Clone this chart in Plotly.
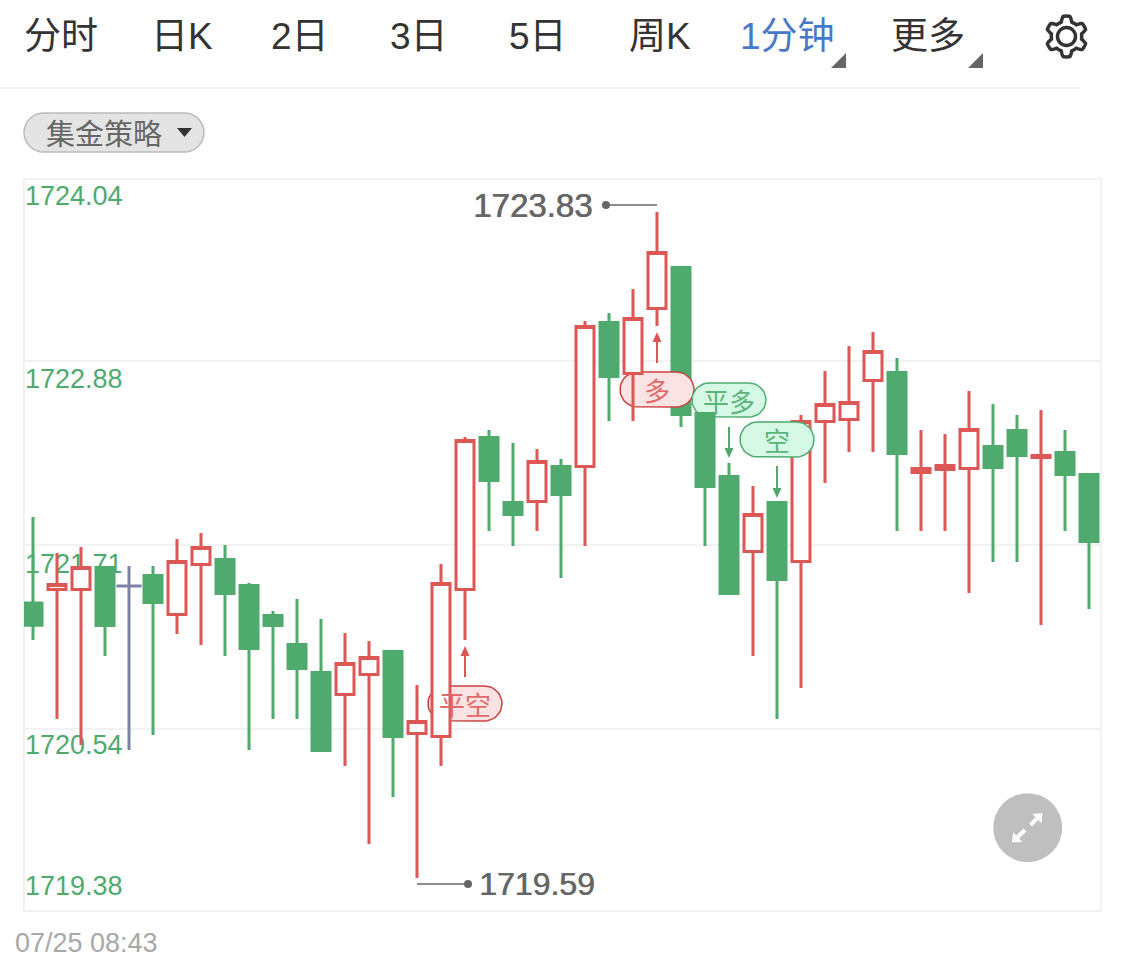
import math
import plotly.graph_objects as go

# ---- data ----------------------------------------------------------------
idx = list(range(45))
highs = [1721.888,1721.659,1721.697,1721.567,1721.576,1721.576,1721.748,1721.786,1721.710,1721.468,
         1721.290,1721.366,1721.239,1721.150,1721.099,1721.032,1720.819,1721.589,1722.398,1722.442,
         1722.359,1722.321,1722.258,1723.136,1723.187,1723.340,1723.830,1723.477,1722.547,1722.232,
         1722.086,1721.981,1722.538,1722.818,1722.977,1723.066,1722.900,1722.442,1722.417,1722.690,
         1722.608,1722.538,1722.569,1722.442,1722.159]
lows = [1721.105,1720.602,1720.437,1721.003,1720.405,1720.500,1721.143,1721.073,1721.003,1720.405,
        1720.602,1720.602,1720.402,1720.303,1719.807,1720.106,1719.590,1720.303,1721.105,1721.799,
        1721.704,1721.799,1721.500,1721.704,1722.499,1722.499,1723.104,1722.461,1721.704,1721.401,
        1721.003,1720.602,1720.800,1722.105,1722.302,1722.302,1721.799,1721.799,1721.799,1721.404,
        1721.602,1721.602,1721.201,1721.799,1721.303]
opens = [1721.340,1721.427,1721.427,1721.567,1721.449,1721.516,1721.268,1721.586,1721.618,1721.452,
         1721.261,1721.077,1720.898,1720.758,1720.886,1721.032,1720.510,1720.491,1721.427,1722.394,
         1721.981,1721.987,1722.210,1722.210,1723.126,1722.802,1723.216,1723.477,1722.547,1722.146,
         1721.669,1721.981,1721.605,1722.496,1722.509,1722.757,1722.808,1722.172,1722.191,1722.197,
         1722.337,1722.439,1722.267,1722.299,1722.159]
closes = [1721.199,1721.459,1721.567,1721.198,1721.449,1721.344,1721.605,1721.694,1721.401,1721.051,
          1721.198,1720.924,1720.402,1720.956,1720.994,1720.491,1720.586,1721.465,1722.375,1722.121,
          1721.904,1722.242,1722.032,1723.101,1722.783,1723.152,1723.572,1722.541,1722.082,1721.401,
          1721.904,1721.490,1722.496,1722.604,1722.617,1722.942,1722.293,1722.197,1722.216,1722.445,
          1722.203,1722.280,1722.280,1722.159,1721.732]
doji_index = 4
above_label = {17, 25, 28}      # candles painted over the signal pills

y_min, y_max = 1719.38, 1724.04
grid_values = [1722.88, 1721.71, 1720.54]
axis_labels = ["1724.04", "1722.88", "1721.71", "1720.54", "1719.38"]
axis_label_pos = [1723.932, 1722.767, 1721.595, 1720.437, 1719.539]
max_label, min_label = "1723.83", "1719.59"
tabs = ["分时", "日K", "2日", "3日", "5日", "周K", "1分钟", "更多"]
tab_centers = [61, 182, 300, 419, 538, 660, 787, 928]

RED, GREEN, BLUEGRAY = "#dd5757", "#4faa6e", "#7d82a8"
GRID = "#f2f2f2"

# ---- pixel helpers for furniture ----------------------------------------
L, R, T, B = 24, 1101, 179, 911
W, H = 1125, 973
px = lambda x: (x - L) / (R - L)
py = lambda y: (B - y) / (B - T)
dx = lambda x: (x - 33) / 24
dy = lambda y: y_max - (y - T) * (y_max - y_min) / (B - T)


def pill_poly(x0, y0, x1, y1):
    r = (y1 - y0) / 2
    pts = []
    for a in range(-90, 91, 10):
        pts.append((x1 - r + r * math.cos(math.radians(a)), y0 + r + r * math.sin(math.radians(a))))
    for a in range(90, 271, 10):
        pts.append((x0 + r + r * math.cos(math.radians(a)), y0 + r + r * math.sin(math.radians(a))))
    pts.append(pts[0])
    return pts


def path_of(pts, close=True):
    return "M" + " L".join(f"{px(x):.5f},{py(y):.5f}" for x, y in pts) + (" Z" if close else "")


def arrow_poly(tx, ty, bx, by, head=9, hw=6.5, sw=1.6):
    d = math.hypot(tx - bx, ty - by)
    ux, uy = (tx - bx) / d, (ty - by) / d
    nx, ny = -uy, ux
    hx, hy = tx - ux * head, ty - uy * head
    return [(bx + nx * sw, by + ny * sw), (hx + nx * sw, hy + ny * sw), (hx + nx * hw, hy + ny * hw),
            (tx, ty), (hx - nx * hw, hy - ny * hw), (hx - nx * sw, hy - ny * sw), (bx - nx * sw, by - ny * sw)]


def note(xp, yp, text, size, color, family="Noto Sans CJK SC", xanchor="center"):
    return dict(x=px(xp), y=py(yp), xref="paper", yref="paper", text=text, showarrow=False,
                xanchor=xanchor, yanchor="middle", font=dict(size=size, color=color, family=family))


fig = go.Figure()


def candles(members, yaxis):
    pick = lambda arr: [arr[i] if i in members else None for i in idx]
    fig.add_trace(go.Candlestick(
        x=idx, open=pick(opens), high=pick(highs), low=pick(lows), close=pick(closes),
        yaxis=yaxis, whiskerwidth=0, showlegend=False, hoverinfo="skip",
        increasing=dict(line=dict(color=RED, width=3), fillcolor="#ffffff"),
        decreasing=dict(line=dict(color=GREEN, width=3), fillcolor=GREEN)))


candles({i for i in idx if i not in above_label and i != doji_index}, "y")

# flat candle
fig.add_trace(go.Scatter(x=[doji_index, doji_index], y=[lows[doji_index], highs[doji_index]], mode="lines",
                         line=dict(color=BLUEGRAY, width=3), showlegend=False, hoverinfo="skip"))
fig.add_trace(go.Scatter(x=[doji_index], y=[closes[doji_index]], mode="markers", showlegend=False, hoverinfo="skip",
                         marker=dict(symbol="line-ew", size=18, line=dict(color=BLUEGRAY, width=3))))

# signal pills
signals = [("平空", 428, 686, 502, 721, "#fbe3e3", "#c8423f", "#e26a6a"),
           ("多", 620, 372, 694, 407, "#fbe3e3", "#c8423f", "#e26a6a"),
           ("平多", 692, 383, 766, 417, "#d6f9e6", "#4faa6e", "#5cb37c"),
           ("空", 740, 422, 814, 457, "#d6f9e6", "#4faa6e", "#5cb37c")]
annotations = []
for text, x0, y0, x1, y1, fill, edge, ink in signals:
    poly = pill_poly(x0, y0, x1, y1)
    fig.add_trace(go.Scatter(x=[dx(p[0]) for p in poly], y=[dy(p[1]) for p in poly], mode="lines", fill="toself",
                             fillcolor=fill, line=dict(color=edge, width=1.5), showlegend=False, hoverinfo="skip"))
    annotations.append(note((x0 + x1) / 2, (y0 + y1) / 2, text, 26, ink))

# max / min connectors
for xs, y, in [([23.875, 26], 1723.874), ([16, 18.125], 1719.552)]:
    fig.add_trace(go.Scatter(x=xs, y=[y, y], mode="lines", line=dict(color="#666666", width=1.5),
                             showlegend=False, hoverinfo="skip"))
fig.add_trace(go.Scatter(x=[23.875, 18.125], y=[1723.874, 1719.552], mode="markers",
                         marker=dict(color="#666666", size=8), showlegend=False, hoverinfo="skip"))
HEAVY = "0.7px 0 0 #666666"
annotations.append(dict(x=23.375, y=1723.874, xref="x", yref="y", text=max_label, showarrow=False, xanchor="right",
                        yanchor="middle", font=dict(size=33, color="#666666", family="Liberation Sans", shadow=HEAVY)))
annotations.append(dict(x=18.5, y=1719.552, xref="x", yref="y", text=min_label, showarrow=False, xanchor="left",
                        yanchor="middle", font=dict(size=32, color="#666666", family="Liberation Sans", shadow=HEAVY)))

# candles over the pills, axis with price labels
candles(above_label, "y2")

# furniture
shapes = [dict(type="rect", xref="paper", yref="paper", x0=0, x1=1, y0=0, y1=1, layer="below",
               line=dict(color=GRID, width=2))]
for x0, y0, x1, y1, col in [(657, 363, 657, 332, RED), (465, 677, 465, 646, RED),
                            (729, 427, 729, 458, GREEN), (777, 466, 777, 498, GREEN)]:
    shapes.append(dict(type="path", xref="paper", yref="paper", path=path_of(arrow_poly(x1, y1, x0, y0, head=10, hw=4.5, sw=1)),
                       fillcolor=col, line=dict(width=0)))

for i, t in enumerate(tabs):
    annotations.append(note(tab_centers[i], 37, t, 37, "#4a78c8" if t == "1分钟" else "#333333",
                            "Liberation Sans, Noto Sans CJK SC"))
for xa, xb in [(831, 846), (968, 983)]:
    shapes.append(dict(type="path", xref="paper", yref="paper", line=dict(width=0), fillcolor="#666666",
                       path=path_of([(xa, 68), (xb, 68), (xb, 53)])))
shapes.append(dict(type="line", xref="paper", yref="paper", x0=px(0), x1=px(1080), y0=py(88), y1=py(88),
                   line=dict(color=GRID, width=2)))
shapes.append(dict(type="path", xref="paper", yref="paper", path=path_of(pill_poly(24, 113, 204, 152)),
                   fillcolor="#e4e4e4", line=dict(color="#bbbbbb", width=1.5)))
annotations.append(note(104, 132, "集金策略", 29, "#666666"))
shapes.append(dict(type="path", xref="paper", yref="paper", line=dict(width=0), fillcolor="#333333",
                   path=path_of([(177, 128), (192, 128), (184.5, 137)])))
annotations.append(note(13, 943, "07/25 08:43", 27, "#a8a8a8", "Liberation Sans", xanchor="left"))

# gear icon
gx, gy = 1066.5, 36.5
gear = []
for a in range(0, 360, 2):
    t = math.radians(a)
    s = max(-1, min(1, 1.9 * math.cos(6 * (t - math.pi / 2))))
    r = 17.8 + 2.6 * s
    gear.append((gx + r * math.cos(t), gy + r * math.sin(t)))
shapes.append(dict(type="path", xref="paper", yref="paper", path=path_of(gear), line=dict(color="#333333", width=3.5)))
shapes.append(dict(type="circle", xref="paper", yref="paper", x0=px(gx - 9), x1=px(gx + 9), y0=py(gy + 9), y1=py(gy - 9),
                   line=dict(color="#333333", width=3.5)))

# expand button
cx, cy, cr = 1027.7, 827.7, 34.5
shapes.append(dict(type="circle", xref="paper", yref="paper", x0=px(cx - cr), x1=px(cx + cr), y0=py(cy + cr), y1=py(cy - cr),
                   fillcolor="#bfbfbf", line=dict(width=0)))
for tip, base in [((1042.5, 813), (1030.5, 825)), ((1012, 842.5), (1025, 830))]:
    shapes.append(dict(type="path", xref="paper", yref="paper", path=path_of(arrow_poly(*tip, *base, head=8, hw=6.5, sw=2)),
                       fillcolor="#ffffff", line=dict(width=0)))

fig.update_layout(
    width=W, height=H, margin=dict(l=L, r=W - R, t=T, b=H - B), autosize=False,
    paper_bgcolor="#ffffff", plot_bgcolor="#ffffff", showlegend=False, boxgap=0.25, boxgroupgap=0,
    hovermode=False, shapes=shapes, annotations=annotations,
    xaxis=dict(range=[-0.375, 44.5], showgrid=False, zeroline=False, showticklabels=False, ticks="",
               showline=False, rangeslider=dict(visible=False)),
    yaxis=dict(range=[y_min, y_max], tickmode="array", tickvals=grid_values, showticklabels=False, ticks="",
               gridcolor=GRID, gridwidth=2, zeroline=False, showline=False),
    yaxis2=dict(range=[y_min, y_max], overlaying="y", side="left", anchor="x", tickmode="array",
                tickvals=axis_label_pos, ticktext=axis_labels, showgrid=False, zeroline=False, ticks="",
                ticklabelposition="inside", layer="below traces", showline=False, ticklabelstandoff=-2,
                tickfont=dict(size=27, color=GREEN, family="Liberation Sans")),
)

fig.write_html("out.html", config=dict(displayModeBar=False),
               post_script="document.body.style.margin='0';document.documentElement.style.overflow='hidden';")
